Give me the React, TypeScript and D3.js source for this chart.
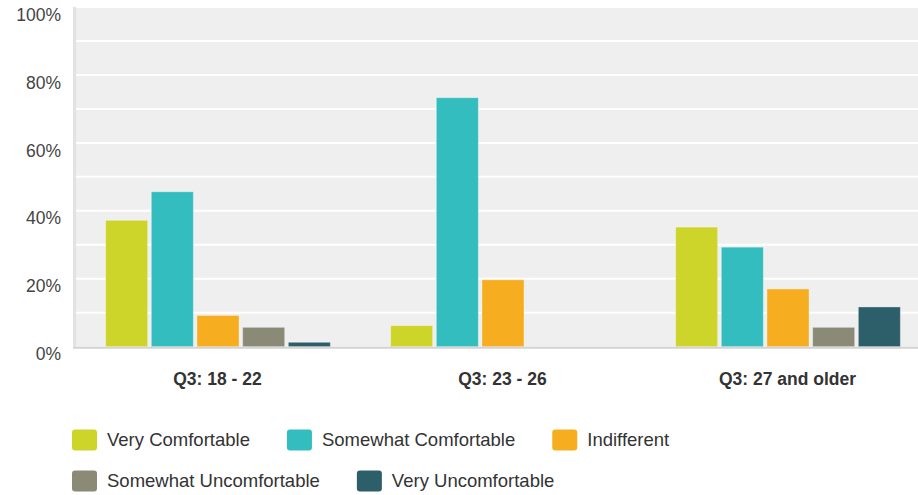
import React, { useEffect, useRef } from "react";
import * as d3 from "d3";

const categories = ["Q3: 18 - 22", "Q3: 23 - 26", "Q3: 27 and older"];
const seriesNames = [
  "Very Comfortable",
  "Somewhat Comfortable",
  "Indifferent",
  "Somewhat Uncomfortable",
  "Very Uncomfortable",
];
const seriesColors = ["#cdd42a", "#33bdbe", "#f6ae20", "#8a8a77", "#2d5f6b"];
const veryComfortable = [37.2, 6.2, 35.2];
const somewhatComfortable = [45.6, 73.3, 29.3];
const indifferent = [9.2, 19.7, 17.0];
const somewhatUncomfortable = [5.7, 0, 5.7];
const veryUncomfortable = [1.3, 0, 11.7];
const yTicks = [0, 20, 40, 60, 80, 100];
const yGrid = [0, 10, 20, 30, 40, 50, 60, 70, 80, 90, 100];

const W = 918;
const H = 495;
const FONT = "'Liberation Sans', Arial, sans-serif";

export default function App() {
  const ref = useRef<SVGSVGElement>(null);

  useEffect(() => {
    const svg = d3.select(ref.current);
    svg.selectAll("*").remove();
    const values = [
      veryComfortable,
      somewhatComfortable,
      indifferent,
      somewhatUncomfortable,
      veryUncomfortable,
    ];
    const left = 75;
    const right = 930;
    const top = 7;
    const bottom = 346.7;

    const x0 = d3.scaleBand<string>().domain(categories).range([left, right]).padding(0);
    const x1 = d3
      .scaleBand<string>()
      .domain(seriesNames)
      .range([0, x0.bandwidth()])
      .paddingInner(0.08)
      .paddingOuter(0.66);
    const y = d3.scaleLinear().domain([0, 100]).range([bottom, top]);

    const g = svg.append("g");
    g.append("rect")
      .attr("x", left)
      .attr("y", top)
      .attr("width", right - left)
      .attr("height", bottom - top)
      .attr("fill", "#efefef");

    g.selectAll("line.grid")
      .data(yGrid.slice(1))
      .enter()
      .append("line")
      .attr("x1", left)
      .attr("x2", right)
      .attr("y1", (d) => y(d))
      .attr("y2", (d) => y(d))
      .attr("stroke", "#ffffff")
      .attr("stroke-width", 2);

    // left axis stripe
    g.append("rect")
      .attr("x", left - 2)
      .attr("y", top)
      .attr("width", 3)
      .attr("height", bottom - top)
      .attr("fill", "#e2e2e2");

    // bars
    categories.forEach((c, ci) => {
      seriesNames.forEach((s, si) => {
        const v = values[si][ci];
        if (v <= 0) return;
        g.append("rect")
          .attr("x", (x0(c) as number) + (x1(s) as number) + 0.5)
          .attr("y", y(v))
          .attr("width", x1.bandwidth())
          .attr("height", bottom - y(v))
          .attr("fill", seriesColors[si])
          .attr("stroke", "rgba(255,255,255,0.35)")
          .attr("stroke-width", 1);
      });
    });

    // bottom axis line
    g.append("line")
      .attr("x1", left - 2)
      .attr("x2", right)
      .attr("y1", bottom + 1)
      .attr("y2", bottom + 1)
      .attr("stroke", "#d3d3d3")
      .attr("stroke-width", 2);

    // y tick labels
    g.selectAll("text.ytick")
      .data(yTicks)
      .enter()
      .append("text")
      .attr("x", 61)
      .attr("y", (d) => y(d) + 7.5)
      .attr("dy", "0.35em")
      .attr("text-anchor", "end")
      .attr("font-family", FONT)
      .attr("font-size", 17.5)
      .attr("fill", "#444")
      .text((d) => `${d}%`);

    // x labels
    g.selectAll("text.xlab")
      .data(categories)
      .enter()
      .append("text")
      .attr("x", (d) => (x0(d) as number) + x0.bandwidth() / 2)
      .attr("y", 379)
      .attr("dy", "0.35em")
      .attr("text-anchor", "middle")
      .attr("font-family", FONT)
      .attr("font-weight", "bold")
      .attr("font-size", 17.5)
      .attr("fill", "#333")
      .text((d) => d);

    // legend with flow layout
    const legendLeft = 72;
    const maxRight = 880;
    const rowY = [440, 481];
    const sq = 25;
    const sqH = 21;
    const textGap = 10;
    const itemGap = 37;
    let cx = legendLeft;
    let row = 0;
    seriesNames.forEach((s, i) => {
      const item = g.append("g");
      const t = item
        .append("text")
        .attr("font-family", FONT)
        .attr("font-size", 18.5)
        .attr("fill", "#333")
        .attr("dy", "0.35em")
        .text(s);
      const tw = (t.node() as SVGTextElement).getComputedTextLength();
      const itemW = sq + textGap + tw;
      if (cx + itemW > maxRight && cx > legendLeft) {
        row += 1;
        cx = legendLeft;
      }
      const cy = rowY[row];
      item
        .insert("rect", "text")
        .attr("x", cx)
        .attr("y", cy - sqH / 2)
        .attr("width", sq)
        .attr("height", sqH)
        .attr("rx", 3)
        .attr("fill", seriesColors[i]);
      t.attr("x", cx + sq + textGap).attr("y", cy);
      cx += itemW + itemGap;
    });
  }, []);

  return (
    <svg
      ref={ref}
      width={W}
      height={H}
      style={{ position: "absolute", left: 0, top: 0, background: "#fff" }}
    />
  );
}
